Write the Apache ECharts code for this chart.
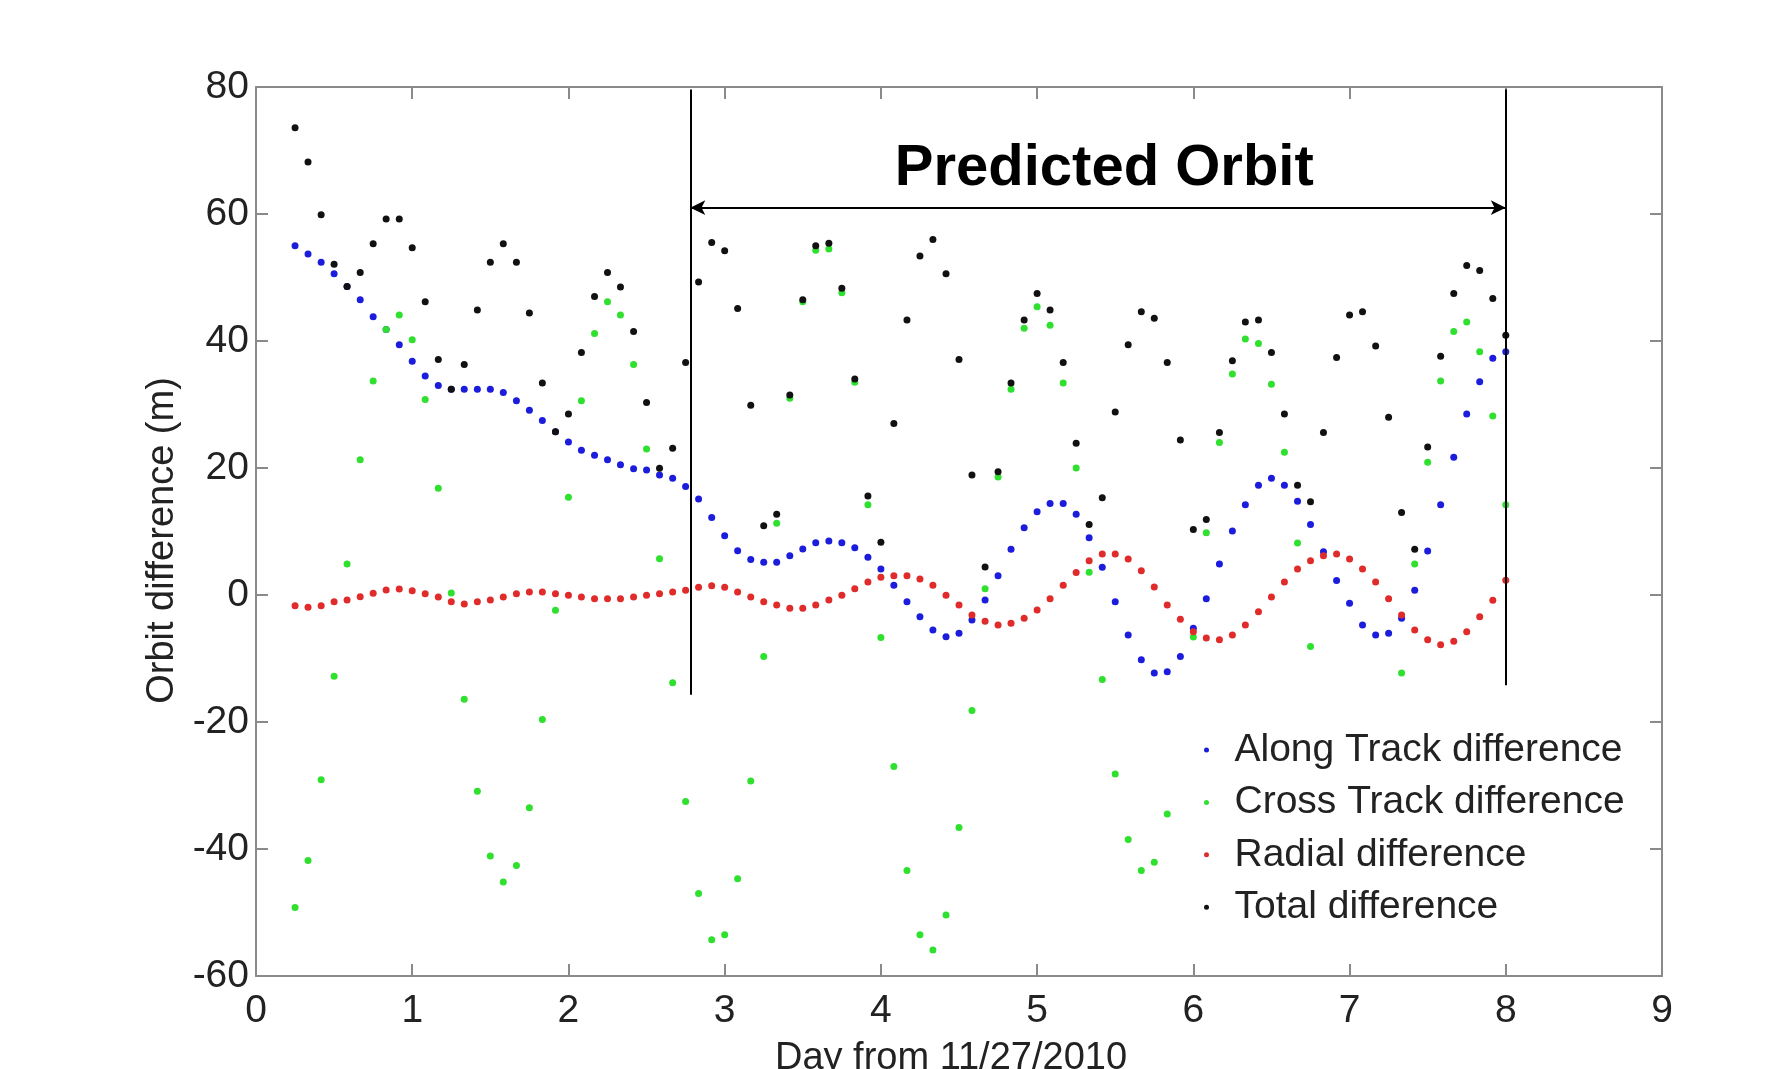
<!DOCTYPE html>
<html>
<head>
<meta charset="utf-8">
<script src="https://cdn.jsdelivr.net/npm/echarts/dist/echarts.min.js"></script>
<style>
html,body{margin:0;padding:0;background:#fff;}
#chart{width:1772px;height:1069px;}
</style>
</head>
<body>
<div id="chart"></div>
<script>
// sample times (days from 11/27/2010), every 2 hours
const days = [0.25,0.333,0.417,0.5,0.583,0.667,0.75,0.833,0.917,1.0,
1.083,1.167,1.25,1.333,1.417,1.5,1.583,1.667,1.75,1.833,
1.917,2.0,2.083,2.167,2.25,2.333,2.417,2.5,2.583,2.667,
2.75,2.833,2.917,3.0,3.083,3.167,3.25,3.333,3.417,3.5,
3.583,3.667,3.75,3.833,3.917,4.0,4.083,4.167,4.25,4.333,
4.417,4.5,4.583,4.667,4.75,4.833,4.917,5.0,5.083,5.167,
5.25,5.333,5.417,5.5,5.583,5.667,5.75,5.833,5.917,6.0,
6.083,6.167,6.25,6.333,6.417,6.5,6.583,6.667,6.75,6.833,
6.917,7.0,7.083,7.167,7.25,7.333,7.417,7.5,7.583,7.667,
7.75,7.833,7.917,8.0];

const alongTrack = [55.0,53.7,52.4,50.6,48.6,46.5,43.8,41.8,39.4,36.8,
34.5,33.0,32.4,32.4,32.4,32.4,31.9,30.6,29.1,27.5,
25.7,24.1,22.8,22.0,21.3,20.5,19.9,19.7,18.9,18.4,
17.1,15.1,12.2,9.35,6.98,5.61,5.14,5.14,6.19,7.24,
8.24,8.5,8.24,7.45,5.93,4.09,1.52,-1.05,-3.41,-5.51,
-6.56,-6.04,-3.94,-0.79,3.04,7.19,10.6,13.1,14.4,14.4,
12.7,9.0,4.36,-1.05,-6.3,-10.2,-12.3,-12.1,-9.7,-5.25,
-0.58,4.88,10.08,14.2,17.3,18.4,17.3,14.75,11.1,6.8,
2.3,-1.31,-4.72,-6.3,-6.04,-3.67,0.73,6.93,14.2,21.7,
28.5,33.6,37.3,38.3];

const crossTrack = [-49.2,-41.8,-29.1,-12.8,4.9,21.3,33.7,41.8,44.1,40.2,
30.8,16.8,0.3,-16.4,-30.9,-41.1,-45.2,-42.6,-33.5,-19.6,
-2.4,15.4,30.6,41.2,46.2,44.1,36.3,23.0,5.7,-13.8,
-32.5,-47.0,-54.3,-53.5,-44.7,-29.3,-9.7,11.3,31.0,46.2,
54.3,54.5,47.6,33.5,14.2,-6.7,-27.0,-43.4,-53.5,-55.9,
-50.4,-36.6,-18.2,1.0,18.6,32.4,42.0,45.4,42.5,33.4,
20.0,3.6,-13.3,-28.2,-38.5,-43.4,-42.1,-34.5,-22.0,-6.6,
9.8,24.0,34.8,40.3,39.6,33.2,22.5,8.2,-8.1,-23.9,
-36.8,-43.7,-44.2,-38.6,-27.3,-12.3,4.9,20.9,33.7,41.5,
43.0,38.3,28.2,14.2];

const radial = [-1.68,-1.94,-1.68,-1.05,-0.79,-0.26,0.26,0.79,0.94,0.68,
0.21,-0.31,-1.05,-1.42,-1.05,-0.79,-0.31,0.21,0.47,0.47,
0.21,-0.05,-0.31,-0.58,-0.58,-0.58,-0.31,-0.05,0.21,0.47,
0.73,1.21,1.47,1.21,0.47,-0.31,-1.05,-1.57,-2.1,-2.1,
-1.57,-0.79,-0.05,1.0,2.05,2.78,3.04,3.04,2.52,1.52,
-0.05,-1.57,-3.15,-4.15,-4.72,-4.46,-3.67,-2.36,-0.58,1.52,
3.56,5.4,6.46,6.46,5.67,3.83,1.26,-1.57,-3.83,-5.77,
-6.77,-7.03,-6.3,-4.72,-2.62,-0.31,2.05,4.09,5.4,6.2,
6.46,5.67,4.09,2.05,-0.58,-3.15,-5.51,-7.03,-7.82,-7.3,
-5.77,-3.41,-0.84,2.31];

const total = [73.6,68.2,59.9,52.1,48.6,50.8,55.3,59.2,59.2,54.7,
46.2,37.1,32.4,36.3,44.9,52.4,55.3,52.4,44.4,33.4,
25.7,28.5,38.2,47.0,50.8,48.5,41.5,30.3,19.95,23.1,
36.6,49.3,55.5,54.2,45.1,29.9,10.9,12.7,31.5,46.5,
55.0,55.4,48.3,34.0,15.6,8.3,27.0,43.3,53.4,56.0,
50.6,37.1,18.9,4.4,19.4,33.4,43.3,47.5,44.9,36.6,
23.9,11.1,15.3,28.8,39.4,44.6,43.6,36.6,24.4,10.3,
11.9,25.6,36.9,43.0,43.3,38.2,28.5,17.3,14.7,25.6,
37.4,44.1,44.6,39.2,28.0,13.0,7.2,23.3,37.6,47.5,
51.9,51.1,46.7,40.9];

const seriesNames = ['Along Track difference','Cross Track difference','Radial difference','Total difference'];
const seriesColors = ['#1c1cdc','#2fe02f','#e02b2b','#111111'];
const xTicks = {min: 0, max: 9, interval: 1};
const yTicks = {min: -60, max: 80, interval: 20};

// predicted orbit annotation (day / metre coordinates)
const predStart = 2.78, predEnd = 8.0;
const predLeftBottom = -15.7, predRightBottom = -14.2, predTop = 79.6, arrowY = 61;
const predLabel = 'Predicted Orbit', predLabelPos = [5.43, 67.05];

const FONT = 'Liberation Sans, Arial, Helvetica, sans-serif';
const axisGray = '#8a8a8a';

function pairs(vals){ return days.map((d,i)=>[d, vals[i]]); }

const valueSets = [alongTrack, crossTrack, radial, total];
const series = valueSets.map((vals, k) => ({
  name: seriesNames[k],
  type: 'scatter',
  xAxisIndex: 0, yAxisIndex: 0,
  symbol: 'circle',
  symbolSize: 7,
  itemStyle: {color: seriesColors[k], opacity: 1},
  data: pairs(vals),
  silent: true
}));

series.push({
  name: 'annot',
  type: 'line',
  xAxisIndex: 0, yAxisIndex: 0,
  data: [],
  silent: true,
  markLine: {
    silent: true,
    animation: false,
    label: {show: false},
    lineStyle: {color: '#000', width: 2, type: 'solid'},
    symbolSize: [11, 15],
    data: [
      [{coord: [predStart, predTop], symbol: 'none'}, {coord: [predStart, predLeftBottom], symbol: 'none'}],
      [{coord: [predEnd, predTop], symbol: 'none'}, {coord: [predEnd, predRightBottom], symbol: 'none'}],
      [{coord: [predStart, arrowY], symbol: 'arrow'}, {coord: [predEnd, arrowY], symbol: 'arrow'}]
    ]
  },
  markPoint: {
    silent: true,
    animation: false,
    symbol: 'circle',
    symbolSize: 1,
    itemStyle: {color: 'rgba(0,0,0,0)'},
    label: {
      show: true, position: 'inside', formatter: predLabel,
      fontSize: 58, fontWeight: 'bold', color: '#000', fontFamily: FONT
    },
    data: [{coord: predLabelPos}]
  }
});

const chart = echarts.init(document.getElementById('chart'), null, {renderer: 'canvas'});
chart.setOption({
  animation: false,
  backgroundColor: '#ffffff',
  grid: {left: 256, right: 110, top: 87, bottom: 93, containLabel: false, outerBoundsMode: 'none'},
  xAxis: [
    {
      type: 'value', position: 'bottom', min: xTicks.min, max: xTicks.max, interval: xTicks.interval,
      name: 'Day from 11/27/2010', nameLocation: 'middle', nameGap: 64,
      nameTextStyle: {fontSize: 38, color: '#222', fontFamily: FONT, padding: [0, 16, 0, 0]},
      axisLine: {show: true, onZero: false, lineStyle: {color: axisGray, width: 2}},
      axisTick: {show: true, inside: true, length: 12, lineStyle: {color: axisGray, width: 2}},
      axisLabel: {show: true, margin: 16, fontSize: 39, color: '#222', fontFamily: FONT, hideOverlap: false},
      splitLine: {show: false}
    },
    {
      type: 'value', position: 'top', min: xTicks.min, max: xTicks.max, interval: xTicks.interval,
      axisLine: {show: true, onZero: false, lineStyle: {color: axisGray, width: 2}},
      axisTick: {show: true, inside: true, length: 12, lineStyle: {color: axisGray, width: 2}},
      axisLabel: {show: false},
      splitLine: {show: false}
    }
  ],
  yAxis: [
    {
      type: 'value', position: 'left', min: yTicks.min, max: yTicks.max, interval: yTicks.interval,
      name: 'Orbit difference (m)', nameLocation: 'middle', nameGap: 74, nameRotate: 90,
      nameTextStyle: {fontSize: 38, color: '#222', fontFamily: FONT, padding: [0, 18, 0, 0]},
      axisLine: {show: true, onZero: false, lineStyle: {color: axisGray, width: 2}},
      axisTick: {show: true, inside: true, length: 12, lineStyle: {color: axisGray, width: 2}},
      axisLabel: {show: true, margin: 7, fontSize: 39, color: '#222', fontFamily: FONT, hideOverlap: false},
      splitLine: {show: false}
    },
    {
      type: 'value', position: 'right', min: yTicks.min, max: yTicks.max, interval: yTicks.interval,
      axisLine: {show: true, onZero: false, lineStyle: {color: axisGray, width: 2}},
      axisTick: {show: true, inside: true, length: 12, lineStyle: {color: axisGray, width: 2}},
      axisLabel: {show: false},
      splitLine: {show: false}
    }
  ],
  legend: {
    data: seriesNames,
    orient: 'vertical',
    left: 1174, top: 720,
    padding: [10, 20, 10, 30],
    backgroundColor: '#ffffff',
    itemWidth: 46, itemHeight: 5,
    itemGap: 12.4,
    icon: 'circle',
    selectedMode: false,
    textStyle: {fontSize: 39, color: '#222', fontFamily: FONT, lineHeight: 40}
  },
  series: series
});
</script>
</body>
</html>
